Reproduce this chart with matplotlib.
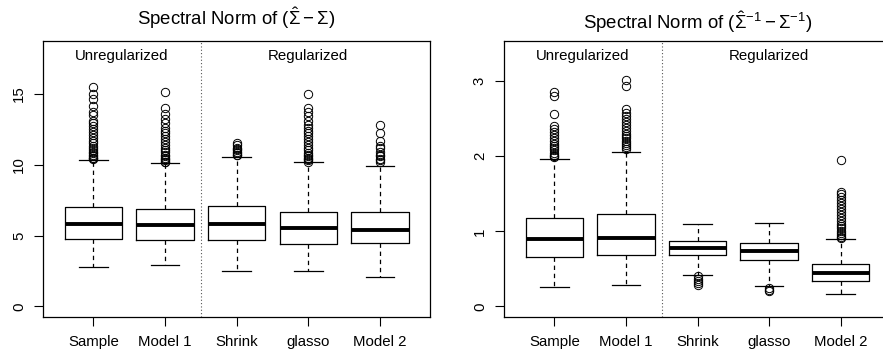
import matplotlib
matplotlib.use("Agg")
import matplotlib.pyplot as plt

plt.rcParams['font.family'] = ['Liberation Sans', 'DejaVu Sans']
plt.rcParams['mathtext.fontset'] = 'custom'
plt.rcParams['mathtext.rm'] = 'Liberation Sans'
plt.rcParams['mathtext.it'] = 'Liberation Sans:italic'

methods = ["Sample", "Model 1", "Shrink", "glasso", "Model 2"]

# left panel: spectral norm of (Sigma_hat - Sigma)
cov_q1 = [4.77, 4.72, 4.72, 4.42, 4.51]
cov_med = [5.80, 5.75, 5.80, 5.52, 5.40]
cov_q3 = [7.00, 6.90, 7.11, 6.69, 6.69]
cov_lo = [2.75, 2.94, 2.51, 2.51, 2.11]
cov_hi = [10.33, 10.12, 10.52, 10.17, 9.89]
cov_out = [
    [15.5, 15.0, 14.6, 14.1, 13.7, 13.5, 13.1, 12.9, 12.7, 12.5, 12.3, 12.1, 11.9,
     11.7, 11.5, 11.3, 11.2, 11.0, 10.9, 10.8, 10.7, 10.6, 10.5, 10.45, 10.4],
    [15.1, 14.0, 13.6, 13.2, 12.9, 12.6, 12.4, 12.2, 12.0, 11.8, 11.6, 11.4, 11.2,
     11.0, 10.9, 10.7, 10.6, 10.5, 10.4, 10.3, 10.2, 10.15],
    [11.5, 11.4, 11.2, 11.1, 11.0, 10.9, 10.8, 10.7, 10.65],
    [15.0, 14.0, 13.7, 13.4, 13.1, 12.8, 12.6, 12.4, 12.2, 12.0, 11.8, 11.6, 11.4,
     11.2, 11.0, 10.8, 10.7, 10.6, 10.5, 10.4, 10.3, 10.2],
    [12.8, 12.2, 11.7, 11.3, 11.2, 10.9, 10.7, 10.6, 10.4, 10.3, 10.2],
]

# right panel: spectral norm of (Sigma_hat^-1 - Sigma^-1)
inv_q1 = [0.653, 0.68, 0.685, 0.613, 0.333]
inv_med = [0.893, 0.916, 0.783, 0.738, 0.44]
inv_q3 = [1.183, 1.23, 0.872, 0.84, 0.56]
inv_lo = [0.263, 0.28, 0.423, 0.276, 0.165]
inv_hi = [1.97, 2.06, 1.098, 1.112, 0.898]
inv_out = [
    [2.85, 2.80, 2.56, 2.40, 2.36, 2.32, 2.28, 2.24, 2.20, 2.17, 2.14, 2.11, 2.08,
     2.05, 2.02, 2.00, 1.99],
    [3.02, 2.93, 2.63, 2.58, 2.54, 2.50, 2.46, 2.42, 2.38, 2.34, 2.30, 2.27, 2.24,
     2.21, 2.18, 2.15, 2.12, 2.10],
    [0.40, 0.37, 0.34, 0.31, 0.28],
    [0.25, 0.22, 0.21],
    [1.95, 1.53, 1.50, 1.46, 1.42, 1.38, 1.34, 1.30, 1.26, 1.22, 1.18, 1.14, 1.10,
     1.07, 1.04, 1.01, 0.98, 0.95, 0.93, 0.91],
]


def make_stats(q1, med, q3, lo, hi, out):
    stats = []
    for i in range(len(q1)):
        stats.append(dict(med=med[i], q1=q1[i], q3=q3[i], whislo=lo[i],
                          whishi=hi[i], fliers=out[i]))
    return stats


def draw_panel(ax, stats, ymax, yticks, title, title_y):
    ax.bxp(stats, positions=range(1, 6), widths=0.8, capwidths=0.4,
           boxprops=dict(color='black', lw=0.9),
           medianprops=dict(color='black', lw=2.8, solid_capstyle='butt'),
           whiskerprops=dict(color='black', lw=0.9, linestyle=(0, (3.5, 3))),
           capprops=dict(color='black', lw=0.9),
           flierprops=dict(marker='o', mfc='none', mec='black', ms=6, mew=0.7))
    pad = ymax * 0.04
    ax.set_ylim(-pad, ymax + pad)
    ax.set_xlim(0.3, 5.7)
    ax.set_yticks(yticks)
    ax.set_xticks(range(1, 6))
    ax.set_xticklabels(methods)
    ax.tick_params(axis='both', length=6.5, width=0.8, labelsize=10.8, direction='out')
    ax.tick_params(axis='x', pad=7)
    ax.tick_params(axis='y', pad=6, labelrotation=90)
    for lab in ax.get_yticklabels():
        lab.set_va('center')
    for sp in ax.spines.values():
        sp.set_linewidth(0.9)
    ax.axvline(2.5, color='#555555', lw=0.8, linestyle=(0, (1, 2)))
    ax.text(1.4, ymax * 0.98, "Unregularized", ha='center', va='center', fontsize=10.8)
    ax.text(4.0, ymax * 0.98, "Regularized", ha='center', va='center', fontsize=10.8)
    ax.text(0.5, title_y, title, transform=ax.transAxes, ha='center',
            va='baseline', fontsize=13.4)


fig = plt.figure(figsize=(8.83, 3.6), dpi=100)
ax1 = fig.add_axes([0.049, 0.1203, 0.438, 0.766])
ax2 = fig.add_axes([0.5711, 0.1203, 0.4377, 0.766])

draw_panel(ax1, make_stats(cov_q1, cov_med, cov_q3, cov_lo, cov_hi, cov_out),
           18, [0, 5, 10, 15],
           r"Spectral Norm of $(\hat{\Sigma} - \Sigma)$", 1.058)
draw_panel(ax2, make_stats(inv_q1, inv_med, inv_q3, inv_lo, inv_hi, inv_out),
           3.4, [0, 1, 2, 3],
           r"Spectral Norm of $(\hat{\Sigma}^{-1} - \Sigma^{-1})$", 1.042)

fig.savefig("out.png", dpi=100)
